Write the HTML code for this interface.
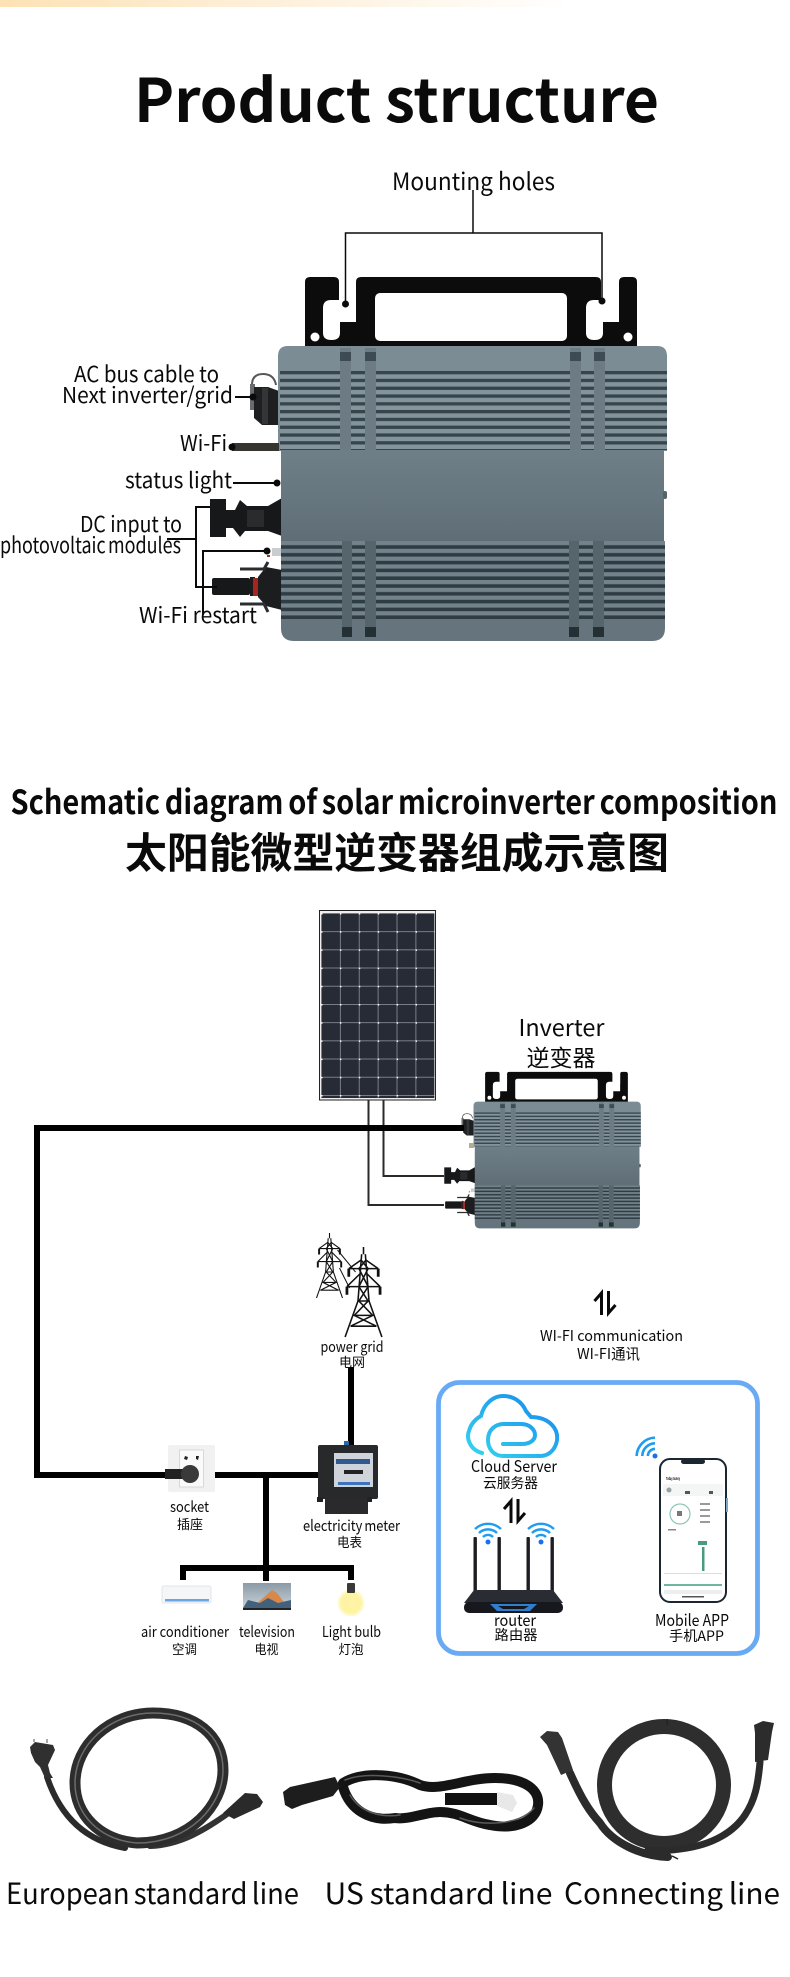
<!DOCTYPE html>
<html lang="en"><head><meta charset="utf-8"><title>Product structure</title>
<style>
html,body{margin:0;padding:0;background:#fff}
svg{display:block}
text{font-family:"Liberation Sans","Noto Sans CJK SC",sans-serif;fill:#0a0a0a}
.n{font-family:"Noto Sans CJK SC","Liberation Sans",sans-serif}
</style></head><body>
<svg xmlns="http://www.w3.org/2000/svg" width="790" height="1977" viewBox="0 0 790 1977">
<defs>
<linearGradient id="band" x1="0" x2="1" y1="0" y2="0"><stop offset="0" stop-color="#fde2b4"/><stop offset=".3" stop-color="#fdeed6"/><stop offset=".66" stop-color="#fffcf8"/><stop offset=".72" stop-color="#fff"/></linearGradient>
<linearGradient id="body" x1="0" x2="0" y1="0" y2="1"><stop offset="0" stop-color="#6f7f88"/><stop offset="1" stop-color="#5f6e76"/></linearGradient>
<linearGradient id="cloud" x1="0" x2="1" y1="1" y2="0"><stop offset="0" stop-color="#35d6ee"/><stop offset="1" stop-color="#1685ee"/></linearGradient>
<linearGradient id="tvsky" x1="0" x2="0" y1="0" y2="1"><stop offset="0" stop-color="#8b9aa6"/><stop offset="1" stop-color="#c9d3da"/></linearGradient>
<radialGradient id="glow"><stop offset="0" stop-color="#fff3a8"/><stop offset=".7" stop-color="#fdf3a0"/><stop offset="1" stop-color="#fffbe0"/></radialGradient>
<pattern id="fins" patternUnits="userSpaceOnUse" width="10" height="7.800" patternTransform="translate(0,371)"><rect width="10" height="7.800" fill="#84949d"/><rect width="10" height="3.300" fill="#36444b"/></pattern>
<pattern id="fins2" patternUnits="userSpaceOnUse" width="10" height="7.800" patternTransform="translate(0,541)"><rect width="10" height="7.800" fill="#2f3c43"/><rect width="10" height="4.200" fill="#73838c"/></pattern>
<pattern id="cells" patternUnits="userSpaceOnUse" width="18.900" height="18.200" patternTransform="translate(321,913)"><rect width="18.900" height="18.200" fill="#272b35"/><rect x="0" width=".8" height="18.200" fill="#8d919a"/><rect y="0" width="18.900" height=".8" fill="#8d919a"/><rect width="1.500" height="1.500" fill="#fff"/></pattern>

<g id="inv">
  <path d="M305 282q0-5 5-5h24q5 0 5 5v40h17v-40q0-5 5-5h235q5 0 5 5v40h18v-40q0-5 5-5h8q5 0 5 5v68H305z" fill="#0c0c0c"/>
  <path d="M339 270H356V305Q356 316 345 316H340V333Q340 340 331.500 340Q323 340 323 333V308Q323 300 331 300H339Z" fill="#fff"/>
  <path d="M602 270H619V305Q619 316 608 316H603V333Q603 340 594.500 340Q586 340 586 333V308Q586 300 594 300H602Z" fill="#fff"/>
  <rect x="375" y="293" width="192" height="48" rx="5" fill="#fff"/>
  <circle cx="315" cy="337" r="4.500" fill="#fff"/><circle cx="628" cy="337" r="4.500" fill="#fff"/>
  <!-- AC -->
  <path d="M252 385Q252 374 263 374Q274 374 276 385" fill="none" stroke="#55595c" stroke-width="2"/>
  <rect x="250" y="384" width="5" height="26" fill="#6a6d70"/>
  <path d="M254 387H268L279 391V425H262L254 418Z" fill="#1e1f21"/>
  <rect x="262" y="388" width="6" height="36" fill="#333537"/>
  <!-- DC 1 -->
  <path d="M210 499H226V510H235L240 500L247 506H268L282 498V536L268 531H245L240 537L233 528H226V537H210Z" fill="#17181a"/>
  <rect x="247" y="510" width="17" height="17" fill="#2a2b2d"/>
  <!-- DC 2 -->
  <rect x="272" y="548" width="10" height="8" fill="#c9cdd0"/><rect x="267" y="555" width="3" height="2" fill="#b02a20"/>
  <rect x="212" y="578" width="38" height="17" rx="2" fill="#17181a"/>
  <rect x="250" y="577" width="5" height="19" fill="#1b1b1d"/><rect x="253" y="578" width="5" height="18" fill="#a5261c"/>
  <path d="M258 577L266 567L282 570V610L266 606L258 597Z" fill="#1c1d1f"/>
  <path d="M240 569H264L268 562M240 604H264L268 612" fill="none" stroke="#2b2c2e" stroke-width="3"/>
  <!-- body -->
  <path d="M288 346H657Q667 346 667 356V451H278V356Q278 346 288 346Z" fill="#7c8c95"/>
  <rect x="281" y="449" width="383" height="93" fill="url(#body)"/>
  <path d="M281 541H665V628Q665 641 652 641H294Q281 641 281 628Z" fill="#66757d"/>
  <g fill="#6d7c84"><rect x="340" y="348" width="11" height="102"/><rect x="365" y="348" width="11" height="102"/><rect x="570" y="348" width="11" height="102"/><rect x="594" y="348" width="11" height="102"/></g>
  <g fill="#3d4c54"><rect x="340" y="352" width="11" height="9"/><rect x="365" y="352" width="11" height="9"/><rect x="570" y="352" width="11" height="9"/><rect x="594" y="352" width="11" height="9"/></g>
  <g fill="url(#fins)"><rect x="280" y="371" width="60" height="79"/><rect x="351" y="371" width="14" height="79"/><rect x="376" y="371" width="194" height="79"/><rect x="581" y="371" width="13" height="79"/><rect x="605" y="371" width="62" height="79"/></g>
  <g fill="#56646c"><rect x="342" y="541" width="10" height="86"/><rect x="365" y="541" width="11" height="86"/><rect x="569" y="541" width="10" height="86"/><rect x="593" y="541" width="11" height="86"/></g>
  <g fill="#253035"><rect x="342" y="627" width="10" height="10"/><rect x="365" y="627" width="11" height="10"/><rect x="569" y="627" width="10" height="10"/><rect x="593" y="627" width="11" height="10"/></g>
  <g fill="url(#fins2)"><rect x="281" y="541" width="61" height="78"/><rect x="352" y="541" width="13" height="78"/><rect x="376" y="541" width="193" height="78"/><rect x="579" y="541" width="14" height="78"/><rect x="604" y="541" width="61" height="78"/></g>
  <rect x="663" y="491" width="4" height="8" rx="2" fill="#55636b"/>
</g>

<g id="tower" fill="none" stroke="#111" stroke-width="1.700">
  <path d="M0 0V8M-2 8L-6 60L-20 100M2 8L6 60L20 100"/>
  <path d="M-16 24H16M-18 44H18M-6 60H6M-10 76H10M-14 88H14"/>
  <path d="M-3 14L5 24L-5 44L5 60L-10 76L14 88M3 14L-5 24L5 44L-5 60L10 76L-14 88M-16 24L-2 14M16 24L2 14M-18 44L-4 30M18 44L4 30"/>
  <path d="M-16 24V33M16 24V33M-18 44V53M18 44V53" stroke-width="3"/>
</g>
<g id="updown" fill="none" stroke="#0a0a0a" stroke-width="3">
  <path d="M8 24V2L1 10" /><path d="M15 0V22L22 14"/>
</g>
</defs>

<rect width="790" height="1977" fill="#fff"/>
<rect width="790" height="7" fill="url(#band)"/>

<text class="n" x="134" y="122" font-size="60" font-weight="700" textLength="525" lengthAdjust="spacingAndGlyphs">Product structure</text>

<use href="#inv"/>
<rect x="232" y="443" width="47" height="8" fill="#37352f"/>

<g fill="none" stroke="#0a0a0a" stroke-width="1.500">
  <path d="M473 190V233M345.500 304V233H602V301"/>
</g>
<g fill="none" stroke="#0a0a0a" stroke-width="2">
  <path d="M235 397H253M233 483H277M167 539H196M210 507H196V587H217M267 551H203V615"/>
</g>
<g fill="#0a0a0a"><circle cx="345.500" cy="304" r="3.500"/><circle cx="602" cy="301" r="3.500"/><circle cx="253" cy="397" r="3.500"/><circle cx="232" cy="447" r="3.500"/><circle cx="277" cy="483" r="3.500"/><circle cx="267" cy="551" r="3.500"/></g>

<g font-size="22">
<text class="n" x="392" y="190" font-size="24" textLength="163" lengthAdjust="spacingAndGlyphs">Mounting holes</text>
<text class="n" x="74" y="382" textLength="145" lengthAdjust="spacingAndGlyphs">AC bus cable to</text>
<text class="n" x="62" y="403" textLength="171" lengthAdjust="spacingAndGlyphs">Next inverter/grid</text>
<text class="n" x="180" y="451" textLength="47" lengthAdjust="spacingAndGlyphs">Wi-Fi</text>
<text class="n" x="125" y="488" textLength="107" lengthAdjust="spacingAndGlyphs">status light</text>
<text class="n" x="80" y="532" textLength="102" lengthAdjust="spacingAndGlyphs">DC input to</text>
<text class="n" x="0" y="553" word-spacing="-2" textLength="181" lengthAdjust="spacingAndGlyphs">photovoltaic modules</text>
<text class="n" x="139" y="623" textLength="118" lengthAdjust="spacingAndGlyphs">Wi-Fi restart</text>
</g>

<text class="n" x="10.500" y="814" font-size="33" font-weight="700" word-spacing="-2" textLength="767" lengthAdjust="spacingAndGlyphs">Schematic diagram of solar microinverter composition</text>
<text class="n" x="125" y="868" font-size="42" font-weight="700" textLength="544" lengthAdjust="spacingAndGlyphs">太阳能微型逆变器组成示意图</text>

<!-- solar panel -->
<rect x="319.500" y="910.500" width="116" height="189.500" fill="#eeeeee" stroke="#222" stroke-width="1"/>
<rect x="321" y="913" width="113.400" height="185" fill="url(#cells)"/>

<text class="n" x="518.500" y="1036" font-size="23" textLength="86" lengthAdjust="spacingAndGlyphs">Inverter</text>
<text class="n" x="526.500" y="1066" font-size="23" textLength="69" lengthAdjust="spacingAndGlyphs">逆变器</text>

<use href="#inv" transform="translate(353.960,952.800) scale(.430)"/>
<rect x="469" y="1143" width="5" height="5" fill="#b5ad8a"/>

<!-- wires -->
<g fill="none" stroke="#2a2a2a" stroke-width="2"><path d="M368.500 1100V1205H444M383.500 1100V1176H444"/></g>
<g fill="none" stroke="#000" stroke-width="6"><path d="M464 1128H37V1475H168"/><path d="M215 1475H320M266 1475V1581M351 1367V1445M181 1568H354M183 1565V1580M351 1565V1580"/></g>

<!-- towers -->
<use href="#tower" transform="translate(329.500,1233) scale(.65)"/>
<use href="#tower" transform="translate(363.500,1247) scale(.92,.9)"/>
<path d="M337.500 1250L355.500 1272M339.500 1268L349.500 1288" stroke="#111" stroke-width="1" fill="none"/>

<g font-size="15">
<text class="n" x="320.500" y="1352" textLength="63" lengthAdjust="spacingAndGlyphs">power grid</text>
<text class="n" x="339" y="1367" font-size="13" textLength="26" lengthAdjust="spacingAndGlyphs">电网</text>
<text class="n" x="540" y="1341" textLength="143" lengthAdjust="spacingAndGlyphs">WI-FI communication</text>
<text class="n" x="577" y="1359" textLength="63" lengthAdjust="spacingAndGlyphs">WI-FI通讯</text>
<text class="n" x="170" y="1512" textLength="39" lengthAdjust="spacingAndGlyphs">socket</text>
<text class="n" x="177" y="1529" font-size="13" textLength="26" lengthAdjust="spacingAndGlyphs">插座</text>
<text class="n" x="303" y="1531" word-spacing="-1" textLength="97" lengthAdjust="spacingAndGlyphs">electricity meter</text>
<text class="n" x="337" y="1547" font-size="13" textLength="25" lengthAdjust="spacingAndGlyphs">电表</text>
<text class="n" x="141" y="1637" textLength="88" lengthAdjust="spacingAndGlyphs">air conditioner</text>
<text class="n" x="239" y="1637" textLength="56" lengthAdjust="spacingAndGlyphs">television</text>
<text class="n" x="322" y="1637" textLength="59" lengthAdjust="spacingAndGlyphs">Light bulb</text>
<text class="n" x="172" y="1654" font-size="13" textLength="25" lengthAdjust="spacingAndGlyphs">空调</text>
<text class="n" x="254.500" y="1654" font-size="13" textLength="24" lengthAdjust="spacingAndGlyphs">电视</text>
<text class="n" x="338.500" y="1654" font-size="13" textLength="25" lengthAdjust="spacingAndGlyphs">灯泡</text>
</g>

<use href="#updown" transform="translate(593.500,1291)"/>

<!-- socket -->
<rect x="168" y="1445" width="47" height="47" rx="2" fill="#f1f1f1"/>
<rect x="179.500" y="1450" width="24" height="37" fill="#fafafa" stroke="#d8d8d8"/>
<path d="M185 1456l3 1-1 3-3-1zM196 1456l3 0-1 4-2-1z" fill="#222"/>
<rect x="165" y="1469" width="20" height="10" fill="#222"/>
<circle cx="190" cy="1474" r="9" fill="#3a3a3a"/>

<!-- meter -->
<rect x="344" y="1441" width="5" height="5" fill="#2c66b0"/>
<path d="M325 1498H368V1514H325Z" fill="#2a2a2c"/>
<rect x="318" y="1445" width="60" height="54" rx="2" fill="#28292b"/>
<rect x="334" y="1453" width="39" height="34" fill="#cfd4da"/>
<rect x="336" y="1459" width="34" height="5" fill="#30598f"/>
<rect x="344" y="1470" width="19" height="4" fill="#222"/>
<rect x="338" y="1482" width="32" height="3" fill="#3b73bd"/>
<rect x="317" y="1497" width="6" height="5" fill="#222"/><rect x="367" y="1497" width="5" height="5" fill="#222"/>

<!-- appliances -->
<rect x="162" y="1586" width="49" height="17" rx="2" fill="#f4f6f8" stroke="#e2e4e7"/>
<rect x="165" y="1599" width="44" height="2.500" fill="#6aa5e6"/>
<rect x="243" y="1583" width="48" height="25" fill="url(#tvsky)"/>
<path d="M252 1608L263 1598L272 1590L277 1593L284 1602L291 1608Z" fill="#d8894a"/>
<path d="M243 1608L248 1600L260 1603L268 1598L278 1603L291 1600V1608Z" fill="#41617c"/>
<rect x="243" y="1608" width="48" height="2" fill="#222"/>
<circle cx="351" cy="1603" r="13.500" fill="url(#glow)"/>
<rect x="347" y="1583" width="8" height="10" rx="1" fill="#3a3a38"/>

<!-- blue box -->
<rect x="438.500" y="1382.500" width="319" height="271" rx="21" fill="#fff" stroke="#68aaf4" stroke-width="4.800"/>

<path d="M482 1453C470 1450 466 1438 469 1431C471 1423 477 1418 481 1416C484 1403 494 1396 503 1396C514 1396 522 1402 526 1411L531 1417C543 1417 552 1422 556 1431C560 1442 553 1456 540 1456H503C493 1456 488 1448 488 1440C488 1430 495 1424 504 1424H521C530 1424 535 1430 535 1435C535 1440 530 1444 522 1444H503" fill="none" stroke="url(#cloud)" stroke-width="4" stroke-linecap="round"/>

<text class="n" x="471" y="1472" font-size="16" textLength="86" lengthAdjust="spacingAndGlyphs">Cloud Server</text>
<text class="n" x="483" y="1488" font-size="14" textLength="55" lengthAdjust="spacingAndGlyphs">云服务器</text>
<use href="#updown" transform="translate(503,1499)"/>

<!-- wifi router -->
<g fill="none" stroke="#1f9cf0" stroke-width="2.400">
<path d="M483 1537A7 7 0 0 1 493 1537M479 1533A13 13 0 0 1 497 1533M475 1529A19 19 0 0 1 501 1529"/>
<path d="M536 1537A7 7 0 0 1 546 1537M532 1533A13 13 0 0 1 550 1533M528 1529A19 19 0 0 1 554 1529"/>
</g>
<circle cx="488" cy="1542" r="2.500" fill="#1a6ef0"/><circle cx="541" cy="1542" r="2.500" fill="#1a6ef0"/>
<g fill="#1b1d22"><rect x="473.500" y="1537" width="3.400" height="56" rx="1"/><rect x="497.500" y="1537" width="3.400" height="56" rx="1"/><rect x="526.500" y="1537" width="3.400" height="56" rx="1"/><rect x="550.500" y="1537" width="3.400" height="56" rx="1"/></g>
<path d="M474 1590H553L563 1603H464Z" fill="#2a2c33"/>
<rect x="464" y="1602" width="99" height="11" rx="5" fill="#16181d"/>
<path d="M490 1604H537L530 1611H497Z" fill="#2f7fd0"/><path d="M498 1606H529L524 1609H503Z" fill="#14161b"/>
<text class="n" x="494" y="1626" font-size="16" textLength="42" lengthAdjust="spacingAndGlyphs">router</text>
<text class="n" x="494.500" y="1640" font-size="14" textLength="43" lengthAdjust="spacingAndGlyphs">路由器</text>

<!-- phone wifi -->
<g transform="rotate(-45 655 1456)" fill="none" stroke="#1f9cf0" stroke-width="2.600">
<path d="M650 1451A7 7 0 0 1 660 1451M646 1447A13 13 0 0 1 664 1447M642 1443A19 19 0 0 1 668 1443"/>
</g>
<circle cx="655" cy="1456" r="2.500" fill="#1a6ef0"/>

<!-- phone -->
<rect x="660" y="1459" width="66" height="143" rx="10" fill="#fff" stroke="#1c2630" stroke-width="2"/>
<rect x="681" y="1459" width="24" height="5" rx="2.500" fill="#1c2630"/>
<text class="n" x="666" y="1480" font-size="4" font-weight="700" textLength="14" lengthAdjust="spacingAndGlyphs">Today Sunny</text>
<rect x="663" y="1484" width="60" height="12" fill="#f4f5f5"/>
<circle cx="669" cy="1490" r="2.500" fill="#9aa0a0"/>
<rect x="685" y="1491" width="5" height="3" fill="#555"/><rect x="709" y="1491" width="4" height="3" fill="#555"/>
<circle cx="680" cy="1514" r="10" fill="none" stroke="#8fc4b6" stroke-width="1.200"/>
<rect x="677" y="1511" width="5" height="5" fill="#777"/>
<g fill="#9a9a9a"><rect x="700" y="1503" width="10" height="2"/><rect x="700" y="1509" width="10" height="2"/><rect x="700" y="1515" width="10" height="2"/><rect x="700" y="1521" width="10" height="2"/></g>
<rect x="668" y="1529" width="8" height="1.500" fill="#888"/>
<rect x="698" y="1541" width="9" height="4" fill="#4a9a82"/><rect x="702" y="1547" width="2.500" height="24" fill="#4a9a82"/>
<rect x="664" y="1573" width="58" height="1" fill="#ddd"/>
<rect x="664" y="1584" width="58" height="2" fill="#6fb59f"/>
<rect x="664" y="1590" width="58" height="4" fill="#eee"/><rect x="682" y="1596" width="22" height="1.500" fill="#555"/>
<rect x="726" y="1498" width="2" height="14" fill="#7aa9c8"/>

<text class="n" x="655" y="1626" font-size="16" textLength="74" lengthAdjust="spacingAndGlyphs">Mobile APP</text>
<text class="n" x="669" y="1641" font-size="14" textLength="55" lengthAdjust="spacingAndGlyphs">手机APP</text>

<!-- cable 1 -->
<g fill="none" stroke-linecap="round">
<path d="M47 1777C58 1810 80 1840 125 1848" stroke="#2b2b2b" stroke-width="6"/>
<path d="M150 1846C180 1845 205 1830 230 1812" stroke="#333" stroke-width="6"/>
<path d="M137 1843C100 1840 75 1815 75 1783C75 1745 110 1713 153 1713C195 1713 223 1735 223 1770C223 1805 190 1843 137 1843Z" stroke="#2d2d2d" stroke-width="11"/>
<path d="M137 1843C100 1840 75 1815 75 1783C75 1745 110 1713 153 1713C195 1713 223 1735 223 1770C223 1805 190 1843 137 1843Z" stroke="#6d6d6d" stroke-width="1.500"/>
</g>
<path d="M30 1747L35 1742L53 1745L55 1750L48 1765L50 1773L53 1778L45 1778L40 1767L35 1762L31 1753Z" fill="#303030"/>
<path d="M34 1742l0-3M47 1743l0-4" stroke="#aaa" stroke-width="2"/>
<path d="M223 1813L245 1793L257 1794L263 1802L260 1807L234 1819Z" fill="#2a2a2a"/>

<!-- cable 2 -->
<g fill="none" stroke-linecap="round">
<path d="M343 1783C365 1770 400 1775 420 1785C440 1792 465 1778 495 1778C525 1778 540 1790 538 1805C536 1822 515 1830 490 1825C470 1822 460 1812 440 1812C425 1812 410 1820 395 1818C370 1822 350 1810 343 1787" stroke="#141414" stroke-width="10"/>
<path d="M350 1795C360 1812 380 1818 400 1815M460 1818C480 1826 520 1826 534 1808M345 1780C365 1772 400 1776 420 1783" stroke="#5a5a5a" stroke-width="1.500"/>
</g>
<path d="M283 1792L290 1787L335 1777L340 1787L333 1796L302 1805L292 1809L285 1805Z" fill="#1d1d1d"/>
<rect x="445" y="1793" width="52" height="12" fill="#111"/>
<path d="M497 1792L513 1795L517 1803L512 1812L497 1806Z" fill="#e8e8e8"/>

<!-- cable 3 -->
<g fill="none" stroke-linecap="round">
<path d="M570 1773C582 1800 590 1812 600 1823C612 1842 640 1856 668 1857" stroke="#2b2b2b" stroke-width="8"/>
<ellipse cx="664" cy="1785" rx="59.500" ry="58.500" stroke="#2e2e2e" stroke-width="15"/>
<path d="M760 1762C758 1785 755 1800 745 1815C735 1830 715 1845 680 1849C665 1851 655 1851 648 1850" stroke="#2b2b2b" stroke-width="7"/>
</g>
<path d="M540 1737L547 1731L558 1732L562 1738L573 1770L561 1775L555 1762L547 1745Z" fill="#333"/>
<path d="M754 1725L763 1721L774 1723L772 1732L768 1760L755 1762L755 1733Z" fill="#2c2c2c"/>
<path d="M667 1719v6M672 1856l6 3" stroke="#222" stroke-width="1.500"/>

<g font-size="29">
<text class="n" x="6" y="1904" word-spacing="-2" textLength="293" lengthAdjust="spacingAndGlyphs">European standard line</text>
<text class="n" x="324.500" y="1904" word-spacing="-1" textLength="228" lengthAdjust="spacingAndGlyphs">US standard line</text>
<text class="n" x="564" y="1904" word-spacing="-1" textLength="216" lengthAdjust="spacingAndGlyphs">Connecting line</text>
</g>
</svg>
</body></html>
